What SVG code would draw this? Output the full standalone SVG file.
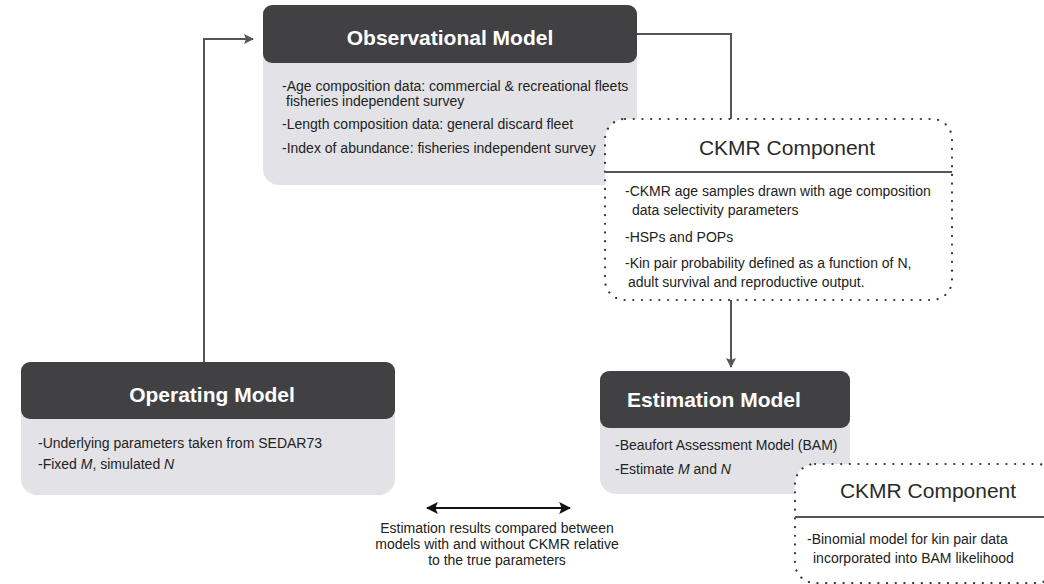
<svg xmlns="http://www.w3.org/2000/svg" width="1044" height="584" viewBox="0 0 1044 584">
<style>
text{font-family:"Liberation Sans",Arial,sans-serif;fill:#222}
.hd{fill:#414144}
.bd{fill:#e3e3e7}
.ttl{font-size:21px;font-weight:bold;fill:#fff}
.ck{font-size:21px;fill:#2a2a2a}
.tx{font-size:14px}
.dot{fill:#fff;stroke:#333;stroke-width:2.2;stroke-dasharray:0.1 8.6;stroke-linecap:round}
.sep{stroke:#555;stroke-width:2}
.con{fill:none;stroke:#555;stroke-width:2}
.it{font-style:italic}
</style>
<defs>
<marker id="ah" viewBox="0 0 10 10" refX="9" refY="5" markerWidth="5" markerHeight="5" orient="auto">
<path d="M0,0 L10,5 L0,10 L2,5 Z" fill="#555"/>
</marker>
<marker id="bh" viewBox="0 0 10 10" refX="9" refY="5" markerWidth="6" markerHeight="6" orient="auto-start-reverse">
<path d="M0,0 L10,5 L0,10 L2,5 Z" fill="#111"/>
</marker>
</defs>

<g id="connectors">
<path class="con" d="M204,362 V39 H253" marker-end="url(#ah)"/>
<path class="con" d="M637,34 H731 V119"/>
<path class="con" d="M731,300 V367" marker-end="url(#ah)"/>
<path d="M427,508 H570" fill="none" stroke="#111" stroke-width="2" marker-start="url(#bh)" marker-end="url(#bh)"/>
</g>

<g id="observational-model">
<rect class="bd" x="263" y="5" width="374" height="180" rx="16"/>
<rect class="hd" x="263" y="5" width="374" height="58" rx="9"/>
<text class="ttl" x="450" y="45" text-anchor="middle">Observational Model</text>
<text class="tx" x="282" y="91">-Age composition data: commercial &amp; recreational fleets</text>
<text class="tx" x="286" y="106">fisheries independent survey</text>
<text class="tx" x="282" y="129">-Length composition data: general discard fleet</text>
<text class="tx" x="282" y="153">-Index of abundance: fisheries independent survey</text>
</g>

<g id="ckmr-component-1">
<rect class="dot" x="605" y="119" width="347" height="181" rx="20"/>
<line class="sep" x1="605" y1="172" x2="952" y2="172"/>
<text class="ck" x="787" y="155" text-anchor="middle">CKMR Component</text>
<text class="tx" x="625" y="196">-CKMR age samples drawn with age composition</text>
<text class="tx" x="632" y="215">data selectivity parameters</text>
<text class="tx" x="625" y="242">-HSPs and POPs</text>
<text class="tx" x="625" y="268">-Kin pair probability defined as a function of N,</text>
<text class="tx" x="628" y="287">adult survival and reproductive output.</text>
</g>

<g id="operating-model">
<rect class="bd" x="21" y="362" width="374" height="133" rx="16"/>
<rect class="hd" x="21" y="362" width="374" height="57" rx="9"/>
<text class="ttl" x="212" y="402" text-anchor="middle">Operating Model</text>
<text class="tx" x="38" y="448">-Underlying parameters taken from SEDAR73</text>
<text class="tx" x="38" y="469">-Fixed <tspan class="it">M</tspan>, simulated <tspan class="it">N</tspan></text>
</g>

<g id="estimation-model">
<rect class="bd" x="600" y="371" width="250" height="123" rx="16"/>
<rect class="hd" x="600" y="371" width="250" height="57" rx="9"/>
<text class="ttl" x="627" y="407">Estimation Model</text>
<text class="tx" x="615" y="450">-Beaufort Assessment Model (BAM)</text>
<text class="tx" x="615" y="474">-Estimate <tspan class="it">M</tspan> and <tspan class="it">N</tspan></text>
</g>

<g id="ckmr-component-2">
<rect class="dot" x="795" y="464" width="262" height="119" rx="20"/>
<line class="sep" x1="795" y1="517" x2="1044" y2="517"/>
<text class="ck" x="928" y="498" text-anchor="middle">CKMR Component</text>
<text class="tx" x="807" y="544">-Binomial model for kin pair data</text>
<text class="tx" x="813" y="563">incorporated into BAM likelihood</text>
</g>

<g id="comparison-note">
<text class="tx" x="497" y="533" text-anchor="middle">Estimation results compared between</text>
<text class="tx" x="497" y="549" text-anchor="middle">models with and without CKMR relative</text>
<text class="tx" x="497" y="565" text-anchor="middle">to the true parameters</text>
</g>
</svg>
